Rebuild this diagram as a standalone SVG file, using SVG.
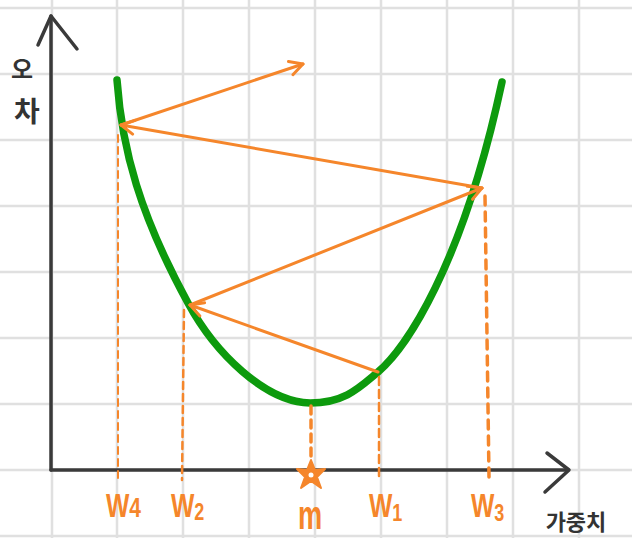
<svg xmlns="http://www.w3.org/2000/svg" width="632" height="538" viewBox="0 0 632 538">
<style>
.grid{stroke:#e0e0e0;stroke-width:2.5;fill:none}
.axis{stroke:#3a3a3a;stroke-width:3.5;fill:none;stroke-linecap:round;stroke-linejoin:round}
.curve{stroke:#0d9a0d;stroke-width:7.5;fill:none;stroke-linecap:round;stroke-linejoin:round}
.arrow{stroke:#f5862b;stroke-width:3;fill:none;stroke-linecap:round;marker-end:url(#head)}
.dash{stroke:#f5862b;fill:none;stroke-linecap:round}
.lbl{fill:#f5862b;font-family:"Liberation Sans","DejaVu Sans",sans-serif;font-weight:700}
.kr{fill:#333;font-family:"Noto Sans CJK KR",sans-serif;font-weight:700}
</style>
<defs>
<marker id="head" markerUnits="userSpaceOnUse" viewBox="0 0 18 18" refX="16" refY="9" markerWidth="18" markerHeight="18" orient="auto">
<path d="M3,2 L16,9 L3,16" stroke="#f5862b" stroke-width="3" fill="none" stroke-linecap="round" stroke-linejoin="round"/>
</marker>
</defs>
<rect width="632" height="538" fill="#ffffff"/>
<g id="grid" class="grid">
<path d="M52,0V538M117,0V538M183,0V538M249,0V538M315,0V538M381,0V538M447,0V538M513,0V538M579,0V538"/>
<path d="M0,8H632M0,74H632M0,140H632M0,206H632M0,272H632M0,338H632M0,404H632M0,470H632M0,536H632"/>
</g>
<g id="axes" class="axis">
<path d="M51,470V16"/>
<path d="M38,45L51,16L77,49"/>
<path d="M51,470H568"/>
<path d="M547,453L569,470L545,492"/>
</g>
<g id="curve">
<path class="curve" d="M117,80 C122,150 140,215 188,303 C215,353 265,402 310,403 C345,403 360,387 378,372 C405,349 462,268 502,82"/>
</g>
<g id="guides">
<path class="dash" d="M118,135V480" stroke-width="2" stroke-dasharray="7 5"/>
<path class="dash" d="M184,310L182,480" stroke-width="2.5" stroke-dasharray="7 5"/>
<path class="dash" d="M311,406V460" stroke-width="3.5" stroke-dasharray="8 6"/>
<path class="dash" d="M379,377V481" stroke-width="2.5" stroke-dasharray="8 5"/>
<path class="dash" d="M485,196L489,477" stroke-width="3.5" stroke-dasharray="9 7"/>
</g>
<g id="connectors">
<path class="arrow" d="M378,372L190,305"/>
<path class="arrow" d="M190,305L482,188"/>
<path class="arrow" d="M482,188L121,125"/>
<path class="arrow" d="M121,125L303,64"/>
</g>
<g id="m-star">
<polygon points="311,460 315,470 325,469 317,477 321,488 311,481 301,488 305,477 297,469 307,470" fill="#f5862b" stroke="#f5862b" stroke-width="2" stroke-linejoin="round"/>
<circle cx="311" cy="475" r="2.5" fill="#fff"/>
</g>
<g id="labels">
<text class="lbl" transform="translate(106,517) scale(0.75,1)" font-size="33">W<tspan font-size="28">4</tspan></text>
<text class="lbl" transform="translate(171,517) scale(0.75,1)" font-size="33">W<tspan font-size="24" dy="3">2</tspan></text>
<text class="lbl" transform="translate(298,529) scale(0.68,1)" font-size="40">m</text>
<text class="lbl" transform="translate(369,517) scale(0.75,1)" font-size="33">W<tspan font-size="24" dy="4">1</tspan></text>
<text class="lbl" transform="translate(471,517) scale(0.75,1)" font-size="33">W<tspan font-size="24" dy="4">3</tspan></text>
<text class="kr" x="576" y="530" font-size="22" text-anchor="middle">가중치</text>
<text class="kr" x="22" y="78" font-size="24" text-anchor="middle">오</text>
<text class="kr" x="27" y="122" font-size="28" text-anchor="middle">차</text>
</g>
</svg>
